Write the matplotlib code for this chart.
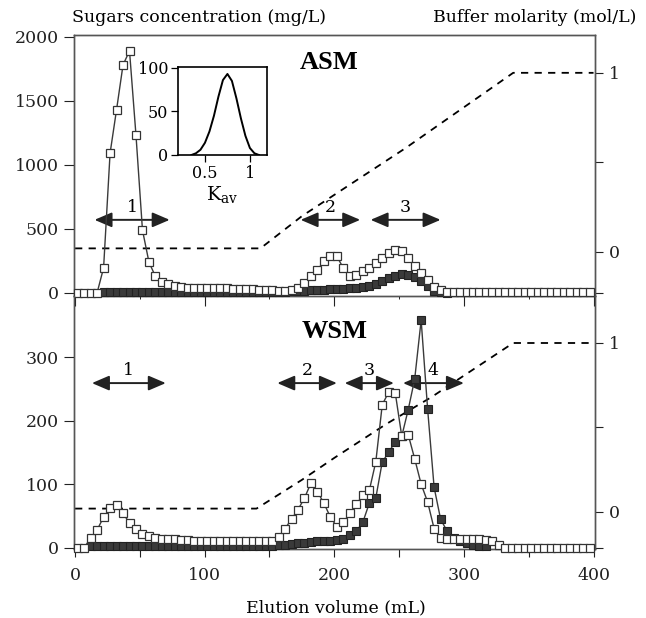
import numpy as np
import matplotlib
matplotlib.use("Agg")
import matplotlib.pyplot as plt

plt.rcParams['font.family'] = ['DejaVu Serif', 'Liberation Serif']
plt.rcParams['mathtext.fontset'] = 'custom'
plt.rcParams['mathtext.rm'] = 'DejaVu Serif'
plt.rcParams['mathtext.it'] = 'DejaVu Serif:italic'

# fraction volumes (mL), one fraction every 5 mL
volume = np.arange(2, 400, 5)

# ASM : total sugars (open squares)
asm_open = [0, 0, 0, 0, 195, 1090, 1430, 1780, 1890, 1230,
            490, 240, 128, 88, 72, 50, 42, 40, 40, 38,
            38, 36, 35, 34, 32, 30, 28, 27, 25, 22,
            20, 18, 16, 20, 36, 76, 128, 180, 245, 284,
            284, 193, 128, 140, 167, 193, 232, 271, 310, 336,
            323, 271, 206, 154, 102, 49, 23, 10, 8, 8,
            8, 8, 8, 8, 8, 8, 8, 8, 8, 8,
            8, 8, 8, 8, 8, 8, 8, 8, 8, 8]
# ASM : second assay (filled squares), fractions from 22 to 287 mL
asm_filled = [5, 5, 5, 5, 5, 5, 5, 5, 5, 5,
              5, 5, 5, 5, 5, 5, 5, 5, 5, 5,
              5, 5, 5, 5, 5, 5, 5, 8, 10, 12,
              15, 18, 20, 22, 25, 27, 30, 32, 35, 40,
              45, 55, 70, 90, 115, 135, 148, 140, 125, 95,
              50, 15, 3, 0]

# WSM : open squares
wsm_open = [0, 0, 15, 28, 48, 62, 67, 54, 39, 29,
            21, 18, 15, 14, 13, 13, 12, 12, 11, 10,
            10, 10, 10, 10, 10, 10, 10, 10, 10, 10,
            10, 17, 30, 45, 60, 78, 102, 88, 70, 48,
            33, 40, 54, 68, 83, 90, 135, 225, 245, 244,
            176, 178, 140, 100, 72, 30, 16, 13, 13, 13,
            14, 14, 13, 12, 10, 5, 0, 0, 0, 0,
            0, 0, 0, 0, 0, 0, 0, 0, 0, 0]
# WSM : filled squares, fractions from 12 to 317 mL
wsm_filled = [3, 3, 3, 3, 3, 3, 3, 3, 3, 3,
              3, 3, 3, 3, 3, 3, 3, 3, 3, 3,
              3, 3, 3, 3, 3, 3, 3, 3, 3, 4,
              5, 6, 7, 8, 9, 10, 10, 10, 12, 14,
              20, 26, 40, 70, 78, 135, 150, 167, 175, 217,
              265, 358, 218, 95, 45, 26, 15, 10, 7, 5,
              3, 2]

# buffer molarity gradient (mol/L)
asm_grad_v = [0, 140, 143, 175, 255, 338, 400]
asm_grad_m = [0.02, 0.02, 0.02, 0.2, 0.58, 1.0, 1.0]
wsm_grad_v = [0, 140, 175, 200, 240, 275, 338, 400]
wsm_grad_m = [0.02, 0.02, 0.19, 0.32, 0.52, 0.68, 1.0, 1.0]

# inset: distribution vs Kav
kav = [0.35, 0.4, 0.45, 0.5, 0.55, 0.6, 0.65, 0.7, 0.75, 0.8,
       0.85, 0.9, 0.95, 1.0, 1.05, 1.1]
kav_val = [0, 2, 6, 14, 27, 45, 67, 86, 93, 85, 65, 42, 22, 8, 2, 0]

# fraction ranges (mL) and labels
asm_ranges = [(15, 73, '1'), (174, 220, '2'), (228, 282, '3')]
wsm_ranges = [(13, 70, '1'), (156, 202, '2'), (208, 246, '3'), (253, 300, '4')]

FS = 12.5
fig = plt.figure(figsize=(6.46, 6.18), dpi=100)
ax1 = fig.add_axes([0.1138, 0.521, 0.808, 0.4226])
ax2 = fig.add_axes([0.1138, 0.1117, 0.808, 0.4093], sharex=ax1)

gray = '#3a3a3a'


def draw_panel(ax, yo, yf, xf_start, grad_v, grad_m, ranges, arrow_y, ylim, rlim, rtick_extra):
    tw = ax.twinx()
    ax.set_zorder(tw.get_zorder() + 1)
    ax.patch.set_visible(False)
    tw.plot(grad_v, grad_m, color='black', ls=(0, (4, 3.5)), lw=1.3)
    tw.set_ylim(*rlim)
    tw.set_yticks([rtick_extra, 0, 0.5, 1])
    tw.set_yticklabels(['', '0', '', '1'])
    tw.tick_params(axis='y', direction='out', length=6, width=0.8,
                   labelsize=FS, pad=4, colors='#222')
    xf = volume[xf_start:xf_start + len(yf)]
    ax.plot(xf, yf, color=gray, lw=1.0, marker='s', ms=5.2, mfc=gray,
            mec='#222', mew=0.8, clip_on=False, zorder=4)
    ax.plot(volume, yo, color=gray, lw=1.0, marker='s', ms=5.6, mfc='white',
            mec='#333', mew=0.9, clip_on=False, zorder=5)
    for x0, x1, lab in ranges:
        ax.annotate('', xy=(x1, arrow_y), xytext=(x0, arrow_y),
                    arrowprops=dict(arrowstyle='<|-|>,head_length=0.7,head_width=0.3',
                                    color='#222', lw=1.4, shrinkA=0, shrinkB=0,
                                    mutation_scale=15), zorder=2)
        ax.annotate(lab, xy=((x0 + x1) / 2, arrow_y), xytext=(0, 3),
                    textcoords='offset points', ha='center', va='bottom',
                    fontsize=FS, zorder=2)
    ax.set_ylim(*ylim)
    ax.tick_params(axis='y', direction='out', length=7, width=0.8,
                   labelsize=FS, pad=3.5, colors='#222')
    ax.tick_params(axis='x', direction='out', length=6, width=0.8,
                   labelsize=FS, pad=7, colors='#222')
    for a in (ax, tw):
        for s in a.spines.values():
            s.set_color('#555')
            s.set_linewidth(1.0)
    return tw


tw1 = draw_panel(ax1, asm_open, asm_filled, 4, asm_grad_v, asm_grad_m,
                 asm_ranges, 570, (-25, 2015), (-0.246, 1.212), -0.229)
tw2 = draw_panel(ax2, wsm_open, wsm_filled, 2, wsm_grad_v, wsm_grad_m,
                 wsm_ranges, 259, (-2, 396), (-0.219, 1.278), -0.213)

ax1.set_xlim(-1.2, 401.5)
ax1.set_yticks([0, 500, 1000, 1500, 2000])
ax2.set_yticks([0, 100, 200, 300])
ax1.set_xticks(np.arange(0, 401, 50))
ax1.tick_params(axis='x', labelbottom=False, length=7)
ax2.set_xticks([0, 100, 200, 300, 400])
ax2.set_xticks(np.arange(0, 401, 50), minor=True)
ax2.tick_params(axis='x', which='minor', direction='out', length=6, width=0.8, colors='#222')
for a in (ax2, tw2):
    a.spines['top'].set_visible(False)

ax1.text(0.49, 0.893, 'ASM', transform=ax1.transAxes, fontsize=19,
         fontweight='bold', ha='center', va='center', family='Liberation Serif')
ax2.text(0.50, 0.86, 'WSM', transform=ax2.transAxes, fontsize=19,
         fontweight='bold', ha='center', va='center', family='Liberation Serif')

fig.text(0.112, 0.971, 'Sugars concentration (mg/L)', fontsize=FS,
         ha='left', va='center')
fig.text(0.985, 0.971, 'Buffer molarity (mol/L)', fontsize=FS,
         ha='right', va='center')
fig.text(0.52, 0.017, 'Elution volume (mL)', fontsize=FS,
         ha='center', va='center')

# inset
axi = fig.add_axes([0.2755, 0.7492, 0.1378, 0.1424])
axi.plot(kav, kav_val, color='black', lw=1.4)
axi.set_xlim(0.2, 1.19)
axi.set_ylim(0, 101)
axi.set_xticks([0.5, 1])
axi.set_xticklabels(['0.5', '1'])
axi.set_yticks([0, 50, 100])
axi.tick_params(direction='out', length=5, width=0.9, labelsize=11.5, pad=2)
axi.set_xlabel(r'K$_{\mathrm{av}}$', fontsize=14, labelpad=2)
for s in axi.spines.values():
    s.set_linewidth(1.2)

fig.savefig('out.png', dpi=100)
